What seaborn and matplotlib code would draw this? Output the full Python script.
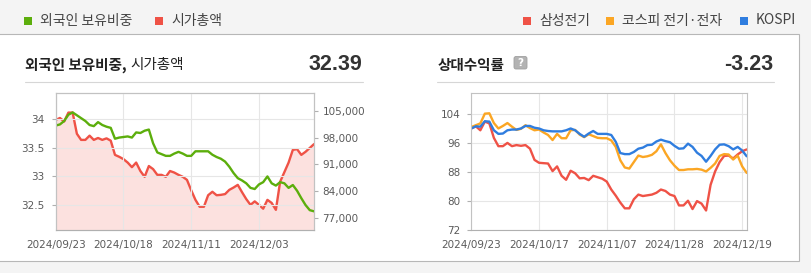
import matplotlib
matplotlib.use("Agg")
import matplotlib.pyplot as plt
from matplotlib.patches import Rectangle, FancyBboxPatch
import numpy as np
import pandas as pd
import seaborn as sns

sns.set_style("white")
plt.rcParams["font.family"] = ["DejaVu Sans", "Noto Sans CJK KR"]

# ---- data -------------------------------------------------------------
# KRX trading days (Chuseok week already past; Oct 1, 3, 9 closed)
holidays = ["2024-10-01", "2024-10-03", "2024-10-09"]
trading_days = pd.bdate_range("2024-09-23", "2024-12-20", freq="C", holidays=holidays)

# 외국인 보유비중 (%)
foreign_ratio = [
    33.89, 33.91, 33.97, 34.08, 34.12, 34.07, 34.02, 33.97, 33.90, 33.88,
    33.95, 33.90, 33.87, 33.85, 33.66, 33.68, 33.69, 33.70, 33.68, 33.77,
    33.76, 33.80, 33.82, 33.58, 33.42, 33.39, 33.36, 33.36, 33.40, 33.43,
    33.40, 33.36, 33.36, 33.44, 33.44, 33.44, 33.44, 33.38, 33.34, 33.31,
    33.26, 33.17, 33.06, 32.97, 32.93, 32.88, 32.80, 32.78, 32.86, 32.90,
    33.00, 32.88, 32.84, 32.90, 32.88, 32.80, 32.85, 32.75, 32.62, 32.50,
    32.41, 32.39,
]
# 시가총액 (억원)
market_cap = [
    102600, 103100, 102200, 104500, 104500, 99000, 97400, 97400, 98500, 97400,
    97900, 97400, 97800, 97200, 93500, 93000, 92400, 91500, 90300, 91500,
    89300, 87800, 90600, 89800, 88300, 88300, 87800, 89300, 88900, 88300,
    87800, 87000, 84300, 81800, 80000, 80000, 83000, 83900, 83000, 83100,
    83300, 84400, 85000, 85700, 83800, 82000, 80500, 81400, 80500, 79500,
    81800, 81000, 79200, 86500, 89000, 91500, 94800, 95000, 93500, 94300,
    95300, 96300,
]
# 상대수익률 (start = 100)
sem_rel = [
    100.1, 100.7, 99.6, 102.0, 101.5, 97.5, 95.2, 95.2, 96.1, 95.2,
    95.5, 95.3, 95.5, 94.5, 91.4, 90.6, 90.5, 90.4, 88.3, 89.6,
    87.0, 85.9, 88.4, 87.7, 86.3, 86.4, 85.8, 87.0, 86.6, 86.2,
    85.4, 83.2, 81.5, 79.6, 78.0, 78.0, 80.5, 81.8, 81.4, 81.6,
    81.8, 82.3, 83.2, 82.8, 81.8, 81.4, 78.8, 78.8, 80.1, 77.8,
    80.0, 79.3, 77.4, 84.5, 88.2, 90.8, 92.5, 92.6, 91.8, 92.9,
    93.8, 94.3,
]
kospi_ee_rel = [
    100.5, 101.0, 101.5, 104.2, 104.3, 101.6, 100.1, 100.8, 101.6, 100.6,
    99.7, 100.0, 101.0, 100.2, 99.6, 99.8, 99.0, 98.3, 96.9, 98.6,
    97.4, 97.4, 99.6, 99.7, 98.4, 97.7, 98.5, 98.0, 97.5, 97.4,
    97.4, 96.8, 95.0, 91.3, 89.3, 89.0, 90.8, 92.6, 92.2, 92.4,
    92.8, 93.8, 95.7, 93.3, 91.3, 89.8, 88.6, 88.6, 88.8, 88.8,
    88.9, 88.7, 88.2, 89.2, 90.4, 92.5, 93.0, 92.9, 91.5, 92.6,
    89.6, 87.8,
]
kospi_rel = [
    100.1, 100.7, 100.6, 102.1, 102.0, 99.6, 98.6, 98.7, 99.6, 99.8,
    99.8, 100.1, 100.8, 100.8, 100.3, 100.1, 99.6, 99.4, 99.3, 99.3,
    99.3, 99.6, 100.1, 99.6, 98.6, 97.8, 98.7, 99.4, 98.6, 98.6,
    98.6, 98.3, 96.4, 93.3, 93.0, 93.0, 93.6, 94.5, 94.8, 95.5,
    95.6, 96.5, 97.0, 96.6, 96.3, 95.3, 94.5, 94.6, 95.9, 95.0,
    93.4, 92.5, 90.9, 92.5, 94.3, 95.6, 95.7, 95.2, 94.3, 95.0,
    94.0, 92.4,
]

summary_ratio = "32.39"
summary_rel = "-3.23"

GREEN = "#5cae0c"
RED = "#ef5246"
ORANGE = "#fba624"
BLUE = "#2f7ddf"
TICK_COLOR = "#5a5a5a"
GRID = "#e6e6e6"
SPINE = "#c2c2c2"

pos = np.arange(len(trading_days))
date_labels = [d.strftime("%Y/%m/%d") for d in trading_days]

# ---- figure & page chrome (pixel coordinates) ------------------------
W, H = 812, 273
fig = plt.figure(figsize=(W / 100, H / 100), dpi=100)
fig.patch.set_facecolor("#f4f4f4")


def px_box(x0, y0, x1, y1):
    return [x0 / W, 1 - y1 / H, (x1 - x0) / W, (y1 - y0) / H]


page = fig.add_axes([0, 0, 1, 1], zorder=-5)
page.set_xlim(0, W)
page.set_ylim(H, 0)
page.axis("off")
page.add_patch(Rectangle((-3, 33.5), 802.5, 227, facecolor="white",
                         edgecolor="#b7b7b7", linewidth=0.8))

kr = ["Noto Sans CJK KR", "DejaVu Sans"]

# legends in the header band
def legend_item(x, color, label):
    page.add_patch(Rectangle((x, 16.5), 8, 8, facecolor=color, edgecolor="none"))
    page.text(x + 16, 20.5, label, va="center", ha="left", fontsize=10,
              color="#444444", family=kr)

legend_item(24, GREEN, "외국인 보유비중")
legend_item(155, RED, "시가총액")
legend_item(523, RED, "삼성전기")
legend_item(606, ORANGE, "코스피 전기·전자")
legend_item(740, BLUE, "KOSPI")

# panel headers
t1 = page.text(25, 65, "외국인 보유비중,", va="center", ha="left", fontsize=10.5,
               weight="bold", color="#222222", family=kr)
page.annotate("시가총액", xy=(1, 0.5), xycoords=t1, xytext=(3, 0),
              textcoords="offset points", va="center", ha="left",
              fontsize=10.5, color="#222222", family=kr)
page.text(362, 64.5, summary_ratio, va="center", ha="right", fontsize=15.5,
          weight="bold", color="#333333", family="Liberation Sans")
page.plot([25, 363], [82, 82], color="#d6d6d6", lw=0.8)

t2 = page.text(438, 65, "상대수익률", va="center", ha="left", fontsize=10.5,
               weight="bold", color="#222222", family=kr)
page.add_patch(FancyBboxPatch((514, 56.5), 13, 12.5,
                              boxstyle="round,pad=0,rounding_size=2",
                              facecolor="#b3b3b3", edgecolor="#a0a0a0", lw=0.6))
page.text(520.5, 63, "?", va="center", ha="center", fontsize=7.5,
          weight="bold", color="white")
page.text(773, 64.5, summary_rel, va="center", ha="right", fontsize=15.5,
          weight="bold", color="#333333", family="Liberation Sans")
page.plot([437, 774], [82, 82], color="#d6d6d6", lw=0.8)


def style_axes(ax, xticks):
    ax.set_xlim(0, len(pos) - 1)
    ax.set_xticks(xticks)
    ax.set_xticklabels([date_labels[i] for i in xticks])
    ax.grid(True, color=GRID, lw=0.8)
    for s in ax.spines.values():
        s.set_visible(True)
        s.set_color(SPINE)
        s.set_linewidth(0.8)
    ax.spines["bottom"].set_color("#b0b0b0")
    ax.tick_params(axis="both", which="both", length=3, width=0.8,
                   color="#b0b0b0", labelsize=7.5, labelcolor=TICK_COLOR)
    ax.tick_params(axis="x", pad=4)
    ax.tick_params(axis="y", pad=5, left=True)
    ax.set_xlabel("")
    ax.set_ylabel("")


# ---- left chart: 외국인 보유비중 & 시가총액 ---------------------------
axL = fig.add_axes(px_box(55.7, 92.7, 314, 230))
axC = axL.twinx()
axL.set_zorder(axC.get_zorder() + 1)
axL.patch.set_visible(False)
axC.patch.set_facecolor("white")

cap_bottom = 73955
axC.set_ylim(cap_bottom, 109680)
axC.fill_between(pos, market_cap, cap_bottom, color=RED, alpha=0.17, lw=0)
sns.lineplot(x=pos, y=market_cap, ax=axC, color=RED, lw=1.7)
axC.set_yticks([77000, 84000, 91000, 98000, 105000])
axC.set_yticklabels([f"{v:,}" for v in [77000, 84000, 91000, 98000, 105000]])
axC.tick_params(axis="y", length=3, width=0.8, color="#b0b0b0",
                labelsize=7.5, labelcolor=TICK_COLOR, pad=3)
axC.set_ylabel("")
for s in axC.spines.values():
    s.set_color(SPINE)
    s.set_linewidth(0.8)

sns.lineplot(x=pos, y=foreign_ratio, ax=axL, color=GREEN, lw=1.7)
axL.set_ylim(32.063, 34.465)
axL.set_yticks([32.5, 33, 33.5, 34])
axL.set_yticklabels(["32.5", "33", "33.5", "34"])
style_axes(axL, [0, 16, 32, 48])

# ---- right chart: 상대수익률 -----------------------------------------
axR = fig.add_axes(px_box(471.3, 92.7, 746.7, 230))
sns.lineplot(x=pos, y=sem_rel, ax=axR, color=RED, lw=1.7)
sns.lineplot(x=pos, y=kospi_ee_rel, ax=axR, color=ORANGE, lw=1.7)
sns.lineplot(x=pos, y=kospi_rel, ax=axR, color=BLUE, lw=1.7)
axR.set_ylim(72, 110)
axR.set_yticks([72, 80, 88, 96, 104])
style_axes(axR, [0, 15, 30, 45, 60])

fig.savefig("out.png", dpi=100, facecolor=fig.get_facecolor())
